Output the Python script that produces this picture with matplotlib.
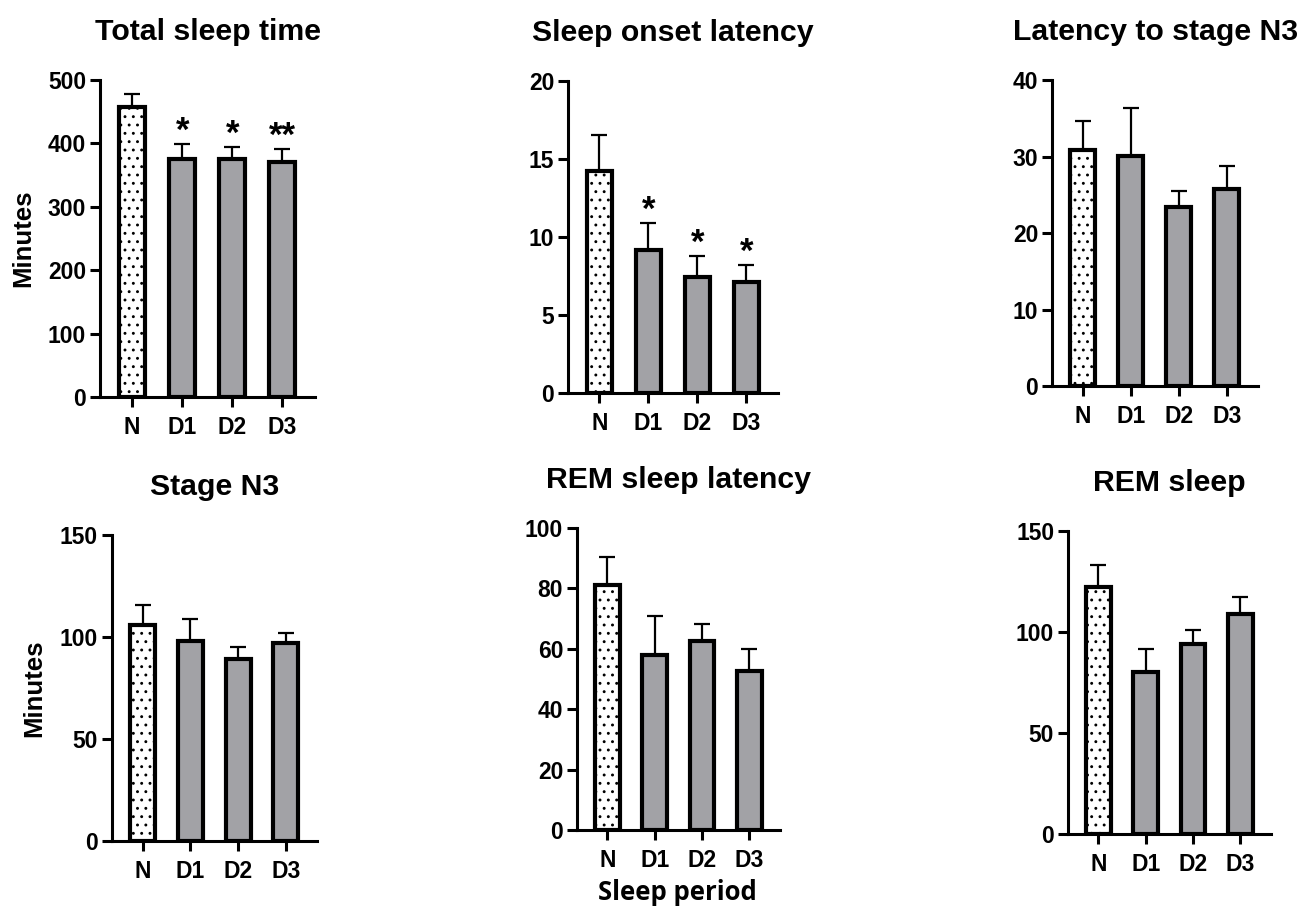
import numpy as np
import matplotlib
matplotlib.use('Agg')
import matplotlib.pyplot as plt

plt.rcParams['font.family'] = ['Liberation Sans', 'DejaVu Sans']
plt.rcParams['font.weight'] = 'bold'
plt.rcParams['hatch.linewidth'] = 0.9
plt.rcParams['hatch.color'] = '#777777'

groups = ['N', 'D1', 'D2', 'D3']

titles = ['Total sleep time', 'Sleep onset latency', 'Latency to stage N3',
          'Stage N3', 'REM sleep latency', 'REM sleep']

tst_mean = [457, 376, 375, 370]
tst_err = [21, 23, 20, 21]
sol_mean = [14.2, 9.15, 7.45, 7.1]
sol_err = [2.35, 1.75, 1.35, 1.1]
ln3_mean = [30.9, 30.1, 23.4, 25.8]
ln3_err = [3.8, 6.3, 2.1, 3.0]
n3_mean = [106, 98, 89, 96.8]
n3_err = [9.5, 11, 6.3, 5.3]
reml_mean = [81, 58, 62.6, 52.8]
reml_err = [9.5, 12.7, 5.6, 7.2]
rem_mean = [122.5, 80, 93.8, 109]
rem_err = [10.7, 11.5, 7.2, 8.5]

tst_stars = ['', '*', '*', '**']
sol_stars = ['', '*', '*', '*']

yticks = [np.arange(0, 501, 100), np.arange(0, 21, 5), np.arange(0, 41, 10),
          np.arange(0, 151, 50), np.arange(0, 101, 20), np.arange(0, 151, 50)]

means = [tst_mean, sol_mean, ln3_mean, n3_mean, reml_mean, rem_mean]
errs = [tst_err, sol_err, ln3_err, n3_err, reml_err, rem_err]
stars = [tst_stars, sol_stars, None, None, None, None]

boxes = [
    [0.0770, 0.5623, 0.1655, 0.3495],
    [0.4373, 0.5667, 0.1617, 0.3440],
    [0.8099, 0.5744, 0.1586, 0.3374],
    [0.0862, 0.0728, 0.1578, 0.3374],
    [0.4442, 0.0849, 0.1563, 0.3330],
    [0.8222, 0.0805, 0.1563, 0.3341],
]

fig = plt.figure(figsize=(12.99, 9.07), dpi=100)

x = np.arange(len(groups))
for i in range(6):
    ax = fig.add_axes(boxes[i])
    m = np.array(means[i])
    e = np.array(errs[i])
    ax.errorbar(x, m, yerr=[np.zeros_like(e), e], fmt='none', ecolor='black',
                elinewidth=1.6, capsize=6, capthick=1.6, zorder=1)
    bars = ax.bar(x, m, width=0.52, color='#a2a2a6', edgecolor='black',
                  linewidth=3, zorder=2)
    bars[0].set_facecolor('white')
    bars[0].set_hatch('..')

    if stars[i] is not None:
        top = yticks[i][-1]
        for j, s in enumerate(stars[i]):
            if s:
                ax.text(x[j], m[j] + e[j] - top * 0.012, s, ha='center', va='bottom',
                        fontsize=25, fontweight='bold')

    ax.set_xlim(-0.64, 3.65)
    ax.set_ylim(yticks[i][0], yticks[i][-1])
    ax.set_yticks(yticks[i])
    ax.set_xticks(x)
    ax.set_xticklabels(groups)
    ax.spines['top'].set_visible(False)
    ax.spines['right'].set_visible(False)
    ax.spines['left'].set_linewidth(2.2)
    ax.spines['bottom'].set_linewidth(2.2)
    ax.tick_params(axis='both', width=2.2, length=7, labelsize=16.5, pad=3)
    ax.tick_params(axis='x', pad=7)
    for lab in ax.get_xticklabels() + ax.get_yticklabels():
        lab.set_fontweight('bold')
    ax.set_title(titles[i], fontsize=21.8, fontweight='bold', pad=29)

fig.text(23 / 1299, 1 - 238 / 907, 'Minutes', rotation=90, ha='center', va='center',
         fontsize=18.5, fontweight='bold')
fig.text(34 / 1299, 1 - 688 / 907, 'Minutes', rotation=90, ha='center', va='center',
         fontsize=18.5, fontweight='bold')
fig.text(677 / 1299, 1 - 892 / 907, 'Sleep period', ha='center', va='center',
         fontsize=18.5, fontweight='bold', family='Open Sans')

fig.savefig('out.png', dpi=100)
